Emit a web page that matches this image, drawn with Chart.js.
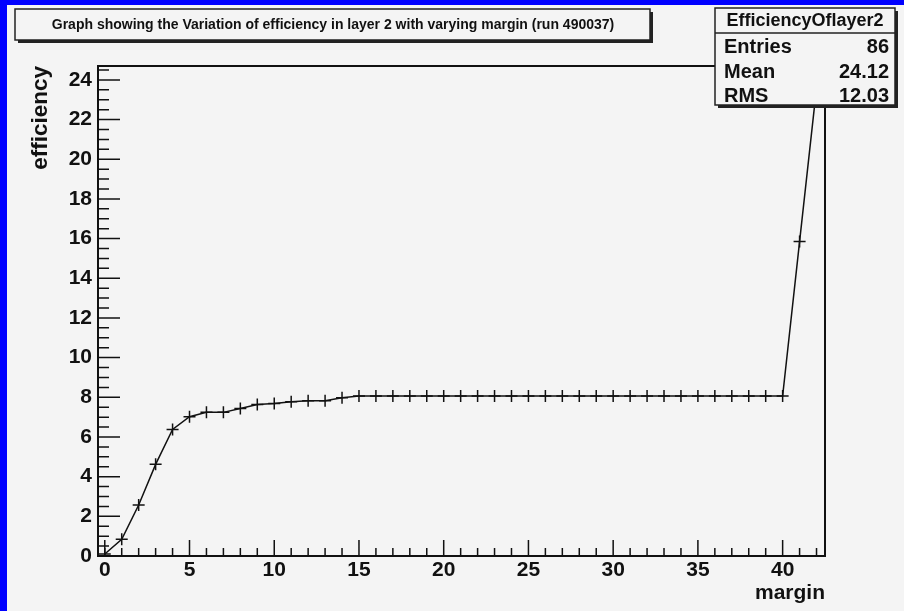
<!DOCTYPE html>
<html>
<head>
<meta charset="utf-8">
<title>Efficiency of layer 2 vs margin</title>
<script src="https://cdn.jsdelivr.net/npm/chart.js@4/dist/chart.umd.min.js"></script>
<style>
  html, body { margin: 0; padding: 0; background: #f4f4f4; overflow: hidden; }
  canvas { display: block; }
</style>
</head>
<body>
<canvas id="chart" width="904" height="611"></canvas>
<script>
// values
const margins = [0, 1, 2, 3, 4, 5, 6, 7, 8, 9, 10, 11, 12, 13, 14, 15, 16, 17, 18, 19, 20,
  21, 22, 23, 24, 25, 26, 27, 28, 29, 30, 31, 32, 33, 34, 35, 36, 37, 38, 39, 40, 41, 42];
const efficiency = [0.1, 0.84, 2.57, 4.62, 6.38, 7.02, 7.24, 7.24, 7.44, 7.64, 7.69, 7.77, 7.83, 7.83, 7.98,
  8.06, 8.06, 8.06, 8.06, 8.06, 8.06, 8.06, 8.06, 8.06, 8.06, 8.06, 8.06, 8.06, 8.06, 8.06,
  8.06, 8.06, 8.06, 8.06, 8.06, 8.06, 8.06, 8.06, 8.06, 8.06, 8.06, 15.85, 23.6];
const xTickValues = [0, 5, 10, 15, 20, 25, 30, 35, 40];
const yTickValues = [0, 2, 4, 6, 8, 10, 12, 14, 16, 18, 20, 22, 24];
const plotTitle = 'Graph showing the Variation of efficiency in layer 2 with varying margin (run 490037)';
const statsName = 'EfficiencyOflayer2';
const statsLabels = ['Entries', 'Mean', 'RMS'];
const statsValues = ['86', '24.12', '12.03'];

const BG = '#f4f4f4';
const INK = '#111';
const FONT = "'Liberation Sans', Arial, sans-serif";

// draws a ROOT style pave: box with a dark drop shadow on the right/bottom
function pave(ctx, x, y, w, h) {
  ctx.fillStyle = '#222';
  ctx.fillRect(x + 3, y + 3, w, h);
  ctx.fillStyle = BG;
  ctx.fillRect(x, y, w, h);
  ctx.strokeStyle = '#222';
  ctx.lineWidth = 1.5;
  ctx.strokeRect(x, y, w, h);
}

const rootLook = {
  id: 'rootLook',
  beforeDraw(chart) {
    const ctx = chart.ctx;
    ctx.save();
    ctx.fillStyle = BG;
    ctx.fillRect(0, 0, chart.width, chart.height);
    // blue canvas edge
    ctx.fillStyle = '#0000ff';
    ctx.fillRect(0, 0, 7, chart.height);
    ctx.fillRect(0, 0, chart.width, 5);
    ctx.restore();
  },
  afterDraw(chart) {
    const ctx = chart.ctx;
    const area = chart.chartArea;
    const xs = chart.scales.x;
    const ys = chart.scales.y;
    ctx.save();

    // frame
    ctx.strokeStyle = INK;
    ctx.lineWidth = 2;
    ctx.strokeRect(area.left, area.top, area.right - area.left, area.bottom - area.top);

    // inward ticks, major + minor
    ctx.lineWidth = 1.5;
    ctx.beginPath();
    for (let v = Math.ceil(xs.min); v <= xs.max; v += 1) {
      const px = xs.getPixelForValue(v);
      const len = v % 5 === 0 ? 16 : 8;
      ctx.moveTo(px, area.bottom);
      ctx.lineTo(px, area.bottom - len);
    }
    for (let v = 0; v <= ys.max; v += 0.5) {
      const py = ys.getPixelForValue(v);
      const len = v % 2 === 0 ? 22 : 11;
      ctx.moveTo(area.left, py);
      ctx.lineTo(area.left + len, py);
    }
    ctx.stroke();

    // title pave
    pave(ctx, 15, 9, 635, 31);
    ctx.fillStyle = INK;
    ctx.font = 'bold 14px ' + FONT;
    ctx.textAlign = 'center';
    ctx.textBaseline = 'middle';
    ctx.fillText(plotTitle, 333, 25, 572);

    // stats pave
    const sx = 715, sy = 8, sw = 180, sh = 97;
    pave(ctx, sx, sy, sw, sh);
    ctx.strokeStyle = '#222';
    ctx.lineWidth = 1.5;
    ctx.beginPath();
    ctx.moveTo(sx, 33);
    ctx.lineTo(sx + sw, 33);
    ctx.stroke();
    ctx.fillStyle = INK;
    ctx.font = 'bold 18px ' + FONT;
    ctx.fillText(statsName, sx + sw / 2, 21, 164);
    ctx.font = 'bold 20px ' + FONT;
    const rowY = [47, 72, 96];
    statsLabels.forEach((lab, i) => {
      ctx.textAlign = 'left';
      ctx.fillText(lab, 724, rowY[i]);
      ctx.textAlign = 'right';
      ctx.fillText(statsValues[i], 889, rowY[i]);
    });
    ctx.restore();
  }
};

const points = margins.map((m, i) => ({ x: m, y: efficiency[i] }));

new Chart(document.getElementById('chart'), {
  type: 'line',
  data: {
    datasets: [{
      data: points,
      borderColor: INK,
      borderWidth: 1.5,
      tension: 0,
      pointStyle: 'cross',
      pointRadius: 6,
      pointBorderWidth: 1.5,
      pointBorderColor: INK,
      fill: false
    }]
  },
  options: {
    responsive: false,
    animation: false,
    events: [],
    layout: { padding: { top: 66, right: 79, left: 0, bottom: 0 } },
    plugins: {
      legend: { display: false },
      tooltip: { enabled: false }
    },
    scales: {
      x: {
        type: 'linear',
        min: -0.4,
        max: 42.5,
        grid: { display: false, drawTicks: false },
        border: { display: false },
        afterBuildTicks: s => { s.ticks = xTickValues.map(v => ({ value: v })); },
        afterFit: s => { s.height = 55; },
        ticks: {
          color: INK,
          padding: 2,
          maxRotation: 0,
          autoSkip: false,
          font: { family: FONT, size: 21, weight: 'bold' }
        },
        title: {
          display: true,
          text: 'margin',
          align: 'end',
          color: INK,
          padding: { top: 0, bottom: 5 },
          font: { family: FONT, size: 21, weight: 'bold' }
        }
      },
      y: {
        type: 'linear',
        min: 0,
        max: 24.7,
        grid: { display: false, drawTicks: false },
        border: { display: false },
        afterBuildTicks: s => { s.ticks = yTickValues.map(v => ({ value: v })); },
        afterFit: s => { s.width = 98; },
        ticks: {
          color: INK,
          padding: 6,
          autoSkip: false,
          font: { family: FONT, size: 21, weight: 'bold' }
        },
        title: {
          display: true,
          text: 'efficiency',
          align: 'end',
          color: INK,
          padding: { top: 27, bottom: 0 },
          font: { family: FONT, size: 22.5, weight: 'bold' }
        }
      }
    }
  },
  plugins: [rootLook]
});
</script>
</body>
</html>
